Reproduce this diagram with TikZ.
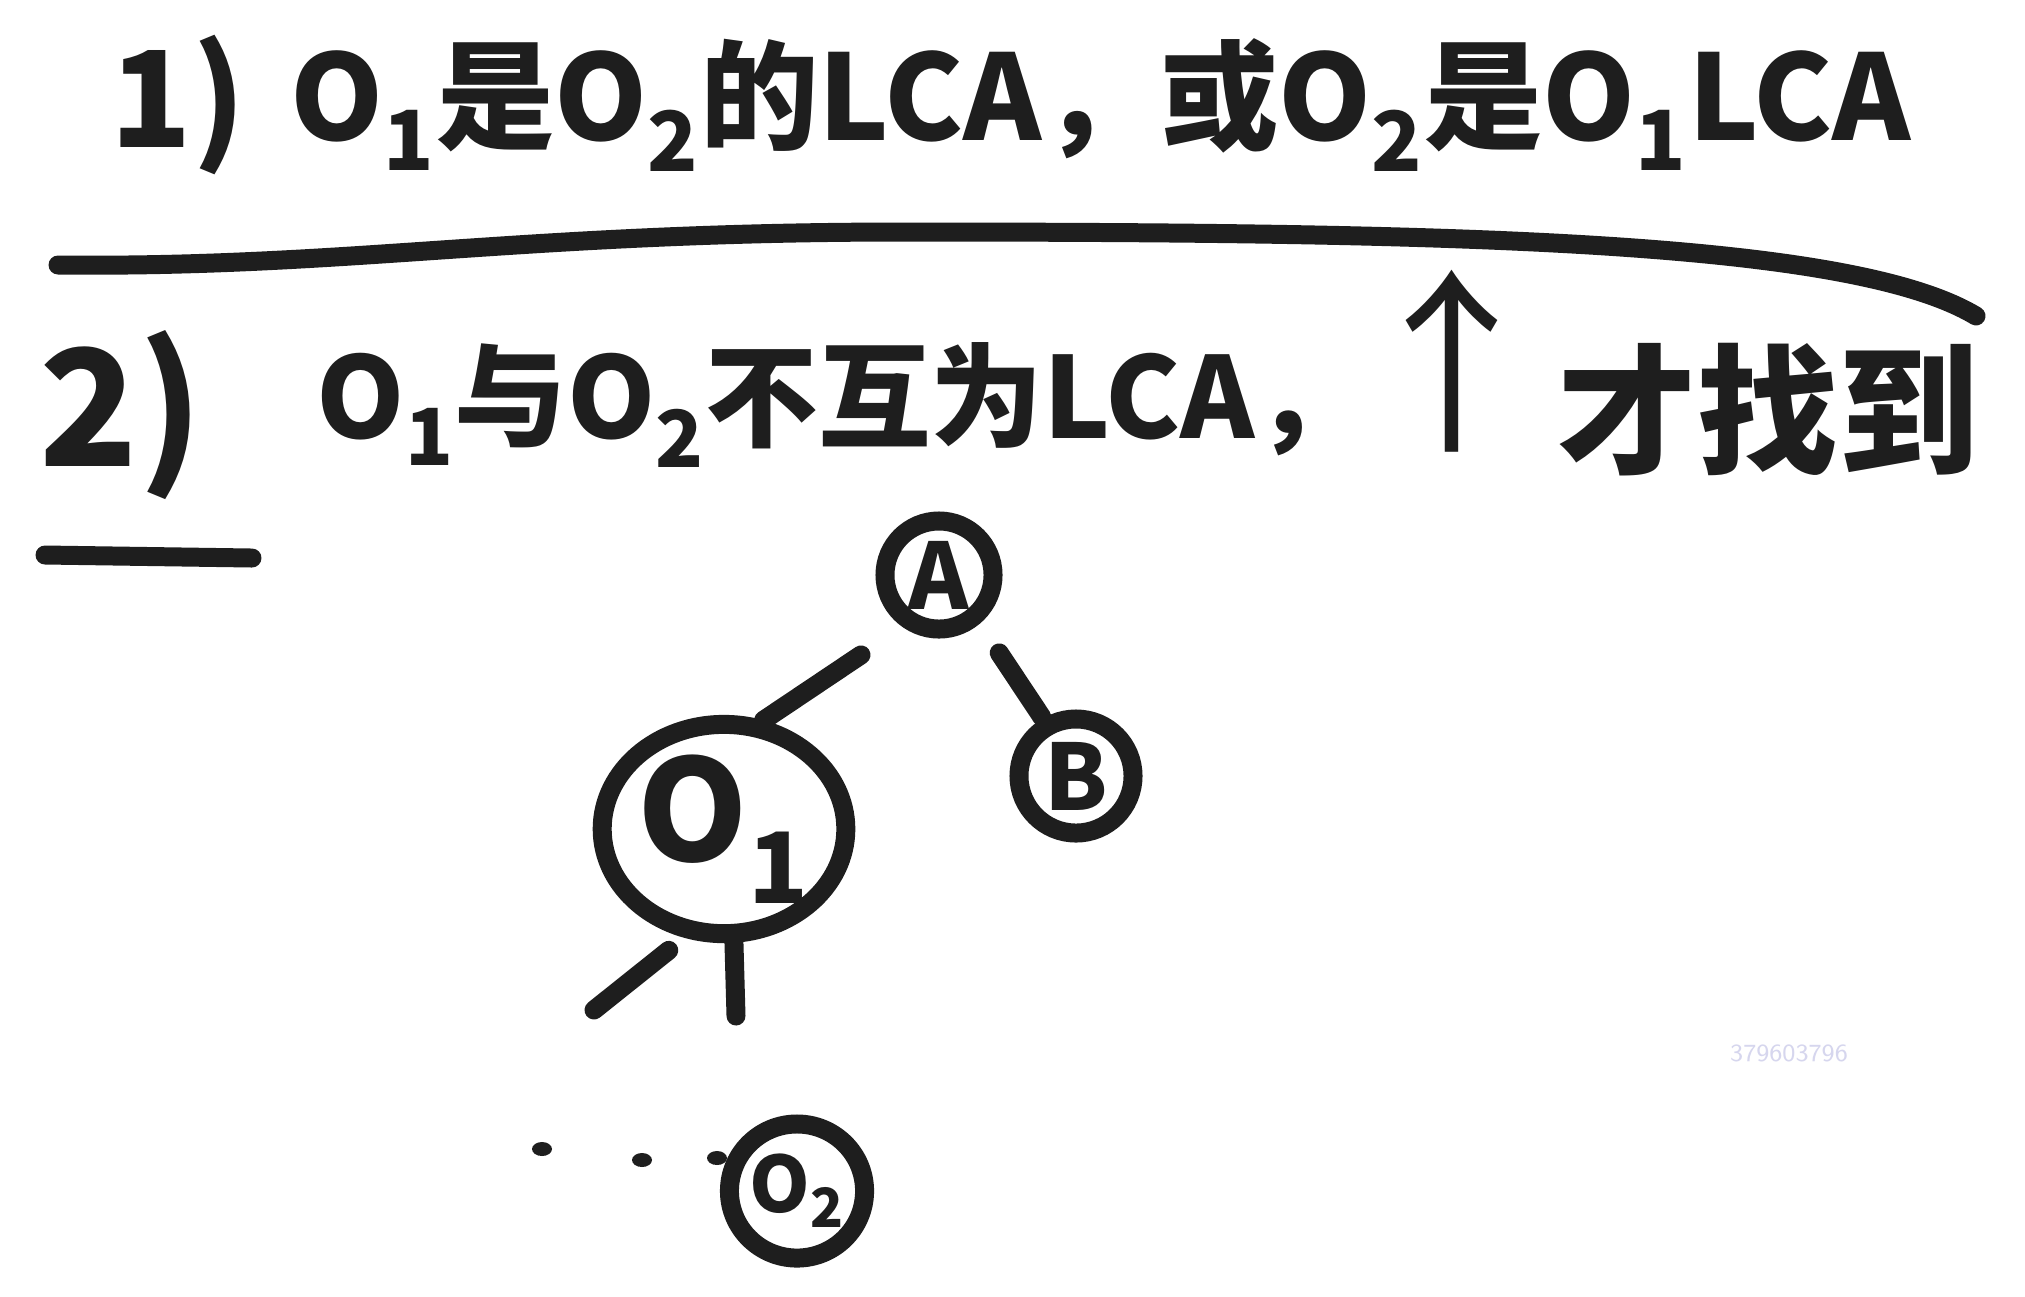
\documentclass[tikz,border=0pt]{standalone}
\usepackage{fontspec}
\newfontfamily\hand{Noto Sans CJK SC}
\usetikzlibrary{shapes.geometric}
\definecolor{ink}{RGB}{30,30,30}
\definecolor{stamp}{RGB}{214,214,238}

\begin{document}
\begin{tikzpicture}[x=0.01cm,y=-0.01cm,line cap=round]
  \tikzstyle{pen}=[draw=ink,line width=5.4pt]
  \tikzstyle{words}=[text=ink,inner sep=0pt,anchor=west]
  \tikzstyle{vertex}=[circle,pen,inner sep=0pt,text=ink]
  \tikzstyle{blob}=[ellipse,pen,inner sep=0pt,text=ink]

  \useasboundingbox[fill=white] (0,0) rectangle (2025,1296);

  % case 1
  \node[words,font=\hand\bfseries\fontsize{38}{38}\selectfont] (one) at (110,105) {1)};
  \node[words,font=\hand\bfseries\fontsize{33.7}{34}\selectfont] (caseone) at (290,105)
    {O\textsubscript{1}是O\textsubscript{2}的LCA，或O\textsubscript{2}是O\textsubscript{1}LCA};

  % divider
  \draw[pen] (58,265) .. controls (350,268) and (520,232) .. (904,232)
    .. controls (1450,232) and (1850,240) .. (1976,316);

  % case 2
  \node[words,font=\hand\bfseries\fontsize{46}{46}\selectfont] (two) at (39,415) {2)};
  \draw[pen] (45,555) -- (252,558);
  \node[words,font=\hand\bfseries\fontsize{32}{32}\selectfont] (casetwo) at (316,405)
    {O\textsubscript{1}与O\textsubscript{2}不互为LCA，};
  \node[text=ink,inner sep=0pt,font=\hand\fontsize{56}{56}\selectfont] (up) at (1452,361) {↑};
  \node[words,font=\hand\bfseries\fontsize{40}{40}\selectfont] (found) at (1556,410) {才找到};

  % tree
  \node[vertex,minimum size=1.08cm,font=\hand\bfseries\fontsize{26}{26}\selectfont] (A) at (939,575) {A};
  \node[vertex,minimum size=1.14cm,font=\hand\bfseries\fontsize{26}{26}\selectfont] (B) at (1076,776) {B};
  \node[blob,minimum width=2.42cm,minimum height=2cm,font=\hand\bfseries\fontsize{40}{40}\selectfont] (O1) at (724,829) {O\textsubscript{1}};
  \node[blob,minimum width=1.16cm,minimum height=1.34cm,font=\hand\bfseries\fontsize{22}{22}\selectfont] (O2) at (797,1191) {O\textsubscript{2}};

  \coordinate (left) at (594,1010);
  \coordinate (down) at (736,1016);

  \draw[pen,shorten <=0.5cm] (A.235) -- (O1.70);
  \draw[pen,shorten <=0.35cm,shorten >=0.02cm] (A.-50) -- (B.120);
  \draw[pen,shorten <=0.2cm] (O1.250) -- (left);
  \draw[pen] (O1.275) -- (down);

  \foreach \x/\y in {542/1149,642/1160,717/1158}
    \fill[ink] (\x,\y) ellipse (10 and 7);

  \node[text=stamp,font=\sffamily\fontsize{7}{7}\selectfont] (stampno) at (1789,1053) {379603796};
\end{tikzpicture}
\end{document}
